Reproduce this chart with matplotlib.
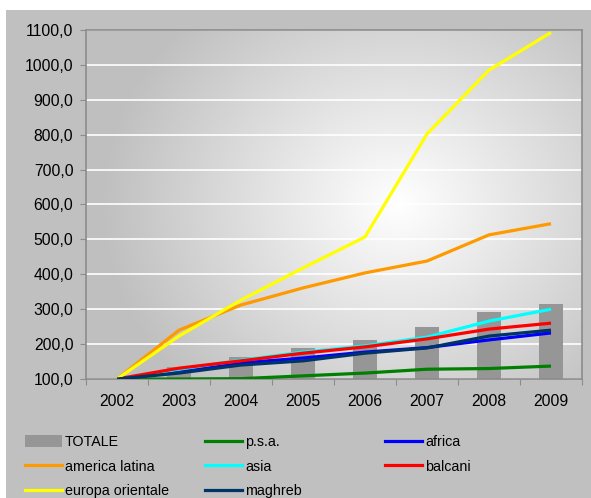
import matplotlib.pyplot as plt
import numpy as np
from matplotlib.patches import Rectangle
from matplotlib.lines import Line2D
from matplotlib.ticker import FuncFormatter

plt.rcParams['font.family'] = ['Liberation Sans', 'DejaVu Sans']

anni = ['2002', '2003', '2004', '2005', '2006', '2007', '2008', '2009']

totale = [100, 134, 163, 189, 212, 249, 292, 315]
psa = [100, 100, 101, 109, 117, 128, 130, 137]
africa = [100, 120, 146, 160, 177, 190, 212, 232]
america_latina = [100, 240, 312, 361, 404, 438, 513, 545]
asia = [100, 128, 154, 177, 195, 220, 266, 300]
balcani = [100, 131, 152, 174, 192, 215, 243, 260]
europa_orientale = [100, 223, 326, 418, 507, 802, 985, 1093]
maghreb = [100, 117, 140, 152, 174, 189, 223, 240]

serie = [
    ('p.s.a.', psa, '#008000'),
    ('africa', africa, '#0000ff'),
    ('america latina', america_latina, '#ff9900'),
    ('asia', asia, '#00ffff'),
    ('balcani', balcani, '#ff0000'),
    ('europa orientale', europa_orientale, '#ffff00'),
    ('maghreb', maghreb, '#003366'),
]

fig = plt.figure(figsize=(5.91, 4.98), dpi=100)
fig.patch.set_facecolor('white')
sfondo = Rectangle((6 / 591, 0), 1, 1 - 10 / 498, transform=fig.transFigure,
                   facecolor='#c0c0c0', edgecolor='none', zorder=-10)
fig.add_artist(sfondo)

ax = fig.add_axes([86 / 591, 1 - 379 / 498, 496 / 591, 349 / 498])
ax.set_facecolor('#c0c0c0')

# sfondo sfumato
gx, gy = np.meshgrid(np.linspace(0, 1, 300), np.linspace(0, 1, 300))
d = np.sqrt(((gx - 0.63) / 0.6) ** 2 + ((gy - 0.5) / 0.75) ** 2)
v = np.clip(1 - d, 0, 1)
lum = 0.75 + 0.25 * v
img = np.dstack([lum, lum, lum])
ax.imshow(img, extent=[0, 1, 0, 1], transform=ax.transAxes, aspect='auto',
          origin='lower', zorder=0, interpolation='bilinear')

x = np.arange(len(anni))
ax.bar(x, np.array(totale) - 100, bottom=100, width=0.4, color='#969696', zorder=2)
for nome, vals, col in serie:
    ax.plot(x, vals, color=col, lw=2.3, zorder=3, solid_capstyle='butt')

ax.set_xlim(-0.5, 7.5)
ax.set_ylim(100, 1100)
ax.set_yticks(np.arange(100, 1101, 100))
ax.yaxis.set_major_formatter(FuncFormatter(lambda v, p: f'{v:.1f}'.replace('.', ',')))
ax.grid(axis='y', color='white', lw=1.2, zorder=1)
ax.set_axisbelow(True)

ax.set_xticks(np.arange(-0.5, 8, 1))
ax.set_xticklabels([])
ax.set_xticks(x, minor=True)
ax.set_xticklabels(anni, minor=True)
ax.tick_params(axis='x', which='minor', length=0, pad=11, labelsize=11.3)
ax.tick_params(axis='x', which='major', length=4, color='#8c8c8c')
ax.tick_params(axis='y', length=4, pad=5, color='#8c8c8c', labelsize=11.3)
for s in ax.spines.values():
    s.set_color('#8c8c8c')
    s.set_linewidth(1.2)

# legenda a tre colonne
gruppi = [
    [('TOTALE', None), ('america latina', '#ff9900'), ('europa orientale', '#ffff00')],
    [('p.s.a.', '#008000'), ('asia', '#00ffff'), ('maghreb', '#003366')],
    [('africa', '#0000ff'), ('balcani', '#ff0000')],
]
for xpos, gruppo in zip([25, 205, 385], gruppi):
    handles = []
    labels = []
    for lab, col in gruppo:
        if col is None:
            handles.append(Rectangle((0, 0), 1, 1, facecolor='#969696'))
        else:
            handles.append(Line2D([], [], color=col, lw=2.3))
        labels.append(lab)
    fig.legend(handles, labels, loc='upper left',
               bbox_to_anchor=(xpos / 591, 1 - 435 / 498),
               frameon=False, fontsize=10.3, handlelength=2.6, handleheight=0.9,
               handletextpad=0.2, labelspacing=0.75, borderaxespad=0, borderpad=0)

fig.savefig('out.png', dpi=100)
